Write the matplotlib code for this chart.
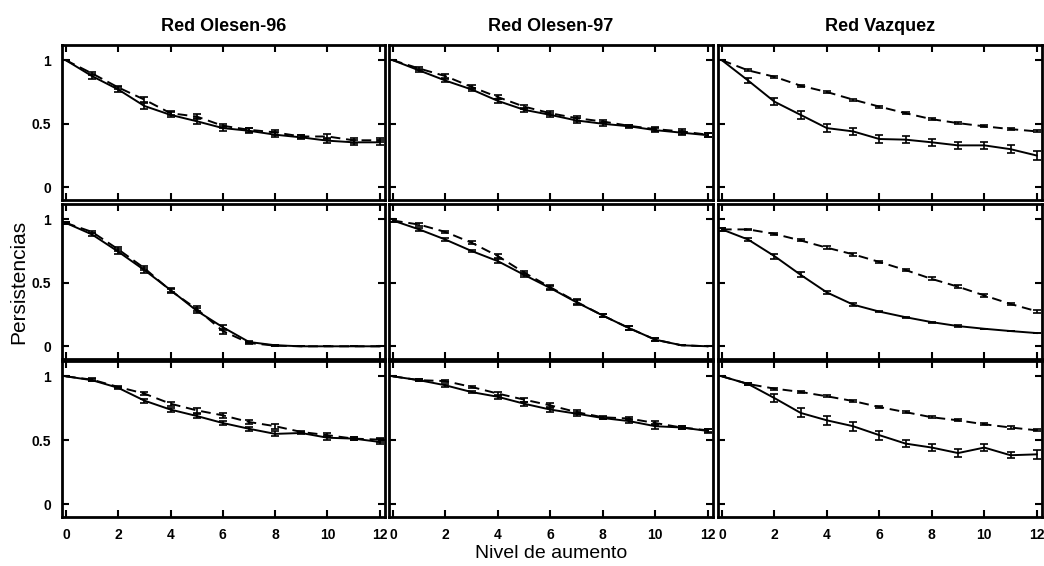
import matplotlib.pyplot as plt
import numpy as np

plt.rcParams['font.family'] = ['Liberation Sans', 'DejaVu Sans']

niveles = list(range(13))
redes = ['Red Olesen-96', 'Red Olesen-97', 'Red Vazquez']

# fila 1
o96_a_sol = [1.0, 0.875, 0.77, 0.64, 0.57, 0.52, 0.466, 0.445, 0.414, 0.393, 0.367, 0.354, 0.354]
o96_a_sol_err = [0.0, 0.02, 0.02, 0.02, 0.02, 0.025, 0.02, 0.02, 0.02, 0.015, 0.02, 0.02, 0.02]
o96_a_das = [1.0, 0.896, 0.786, 0.69, 0.583, 0.557, 0.484, 0.453, 0.432, 0.40, 0.40, 0.37, 0.37]
o96_a_das_err = [0.0, 0.015, 0.015, 0.02, 0.015, 0.02, 0.015, 0.015, 0.02, 0.015, 0.02, 0.02, 0.015]

o97_a_sol = [1.0, 0.92, 0.84, 0.77, 0.68, 0.61, 0.57, 0.526, 0.50, 0.48, 0.45, 0.43, 0.41]
o97_a_sol_err = [0.0, 0.01, 0.01, 0.015, 0.015, 0.015, 0.015, 0.02, 0.015, 0.01, 0.015, 0.015, 0.015]
o97_a_das = [1.0, 0.935, 0.875, 0.79, 0.71, 0.635, 0.583, 0.544, 0.518, 0.484, 0.458, 0.44, 0.414]
o97_a_das_err = [0.0, 0.01, 0.015, 0.015, 0.015, 0.015, 0.015, 0.02, 0.015, 0.01, 0.015, 0.02, 0.015]

vaz_a_sol = [1.0, 0.84, 0.674, 0.57, 0.466, 0.44, 0.38, 0.375, 0.354, 0.33, 0.33, 0.30, 0.25]
vaz_a_sol_err = [0.0, 0.02, 0.025, 0.03, 0.03, 0.03, 0.03, 0.03, 0.03, 0.03, 0.03, 0.03, 0.035]
vaz_a_das = [1.0, 0.92, 0.87, 0.80, 0.75, 0.69, 0.635, 0.583, 0.536, 0.505, 0.48, 0.458, 0.44]
vaz_a_das_err = [0.0, 0.008, 0.008, 0.008, 0.008, 0.008, 0.008, 0.008, 0.008, 0.008, 0.008, 0.008, 0.008]

# fila 2
o96_b_sol = [0.971, 0.88, 0.745, 0.60, 0.443, 0.28, 0.15, 0.034, 0.008, 0.0, 0.0, 0.0, 0.0]
o96_b_sol_err = [0.01, 0.015, 0.02, 0.02, 0.015, 0.02, 0.02, 0.01, 0.0, 0.0, 0.0, 0.0, 0.0]
o96_b_das = [0.971, 0.90, 0.763, 0.615, 0.438, 0.294, 0.12, 0.026, 0.005, 0.0, 0.0, 0.0, 0.0]
o96_b_das_err = [0.01, 0.01, 0.015, 0.015, 0.015, 0.02, 0.02, 0.01, 0.0, 0.0, 0.0, 0.0, 0.0]

o97_b_sol = [0.99, 0.92, 0.84, 0.75, 0.67, 0.5625, 0.458, 0.346, 0.242, 0.143, 0.052, 0.008, 0.0]
o97_b_sol_err = [0.01, 0.01, 0.01, 0.01, 0.015, 0.015, 0.015, 0.02, 0.015, 0.015, 0.01, 0.0, 0.0]
o97_b_das = [0.99, 0.958, 0.90, 0.815, 0.71, 0.58, 0.465, 0.35, 0.242, 0.143, 0.052, 0.008, 0.0]
o97_b_das_err = [0.01, 0.01, 0.01, 0.01, 0.015, 0.015, 0.015, 0.02, 0.015, 0.015, 0.01, 0.0, 0.0]

vaz_b_sol = [0.92, 0.84, 0.71, 0.5625, 0.424, 0.328, 0.273, 0.229, 0.19, 0.159, 0.138, 0.12, 0.104]
vaz_b_sol_err = [0.01, 0.015, 0.02, 0.02, 0.015, 0.01, 0.005, 0.005, 0.005, 0.005, 0.0, 0.0, 0.0]
vaz_b_das = [0.92, 0.92, 0.885, 0.833, 0.776, 0.724, 0.664, 0.60, 0.53, 0.469, 0.40, 0.333, 0.276]
vaz_b_das_err = [0.01, 0.005, 0.008, 0.008, 0.01, 0.01, 0.01, 0.01, 0.012, 0.012, 0.01, 0.01, 0.012]

# fila 3
o96_c_sol = [1.0, 0.97, 0.91, 0.81, 0.74, 0.69, 0.635, 0.59, 0.55, 0.557, 0.52, 0.513, 0.487]
o96_c_sol_err = [0.0, 0.01, 0.01, 0.015, 0.015, 0.015, 0.015, 0.015, 0.02, 0.01, 0.015, 0.01, 0.02]
o96_c_das = [1.0, 0.974, 0.917, 0.865, 0.786, 0.734, 0.695, 0.643, 0.61, 0.565, 0.54, 0.513, 0.505]
o96_c_das_err = [0.0, 0.01, 0.01, 0.01, 0.015, 0.02, 0.02, 0.015, 0.02, 0.01, 0.015, 0.01, 0.015]

o97_c_sol = [1.0, 0.97, 0.93, 0.877, 0.84, 0.786, 0.74, 0.708, 0.674, 0.65, 0.61, 0.60, 0.573]
o97_c_sol_err = [0.0, 0.01, 0.01, 0.01, 0.015, 0.015, 0.015, 0.015, 0.01, 0.015, 0.02, 0.01, 0.015]
o97_c_das = [1.0, 0.97, 0.963, 0.917, 0.865, 0.818, 0.773, 0.72, 0.68, 0.67, 0.635, 0.60, 0.578]
o97_c_das_err = [0.0, 0.01, 0.01, 0.01, 0.015, 0.015, 0.015, 0.015, 0.01, 0.015, 0.015, 0.01, 0.01]

vaz_c_sol = [1.0, 0.94, 0.83, 0.714, 0.656, 0.61, 0.54, 0.474, 0.443, 0.40, 0.443, 0.383, 0.39]
vaz_c_sol_err = [0.0, 0.01, 0.03, 0.035, 0.035, 0.035, 0.035, 0.03, 0.03, 0.03, 0.03, 0.025, 0.035]
vaz_c_das = [1.0, 0.94, 0.904, 0.878, 0.844, 0.807, 0.76, 0.72, 0.68, 0.656, 0.625, 0.60, 0.578]
vaz_c_das_err = [0.0, 0.008, 0.008, 0.008, 0.008, 0.008, 0.008, 0.008, 0.008, 0.008, 0.008, 0.008, 0.008]

filas = [
    [(o96_a_sol, o96_a_sol_err, o96_a_das, o96_a_das_err),
     (o97_a_sol, o97_a_sol_err, o97_a_das, o97_a_das_err),
     (vaz_a_sol, vaz_a_sol_err, vaz_a_das, vaz_a_das_err)],
    [(o96_b_sol, o96_b_sol_err, o96_b_das, o96_b_das_err),
     (o97_b_sol, o97_b_sol_err, o97_b_das, o97_b_das_err),
     (vaz_b_sol, vaz_b_sol_err, vaz_b_das, vaz_b_das_err)],
    [(o96_c_sol, o96_c_sol_err, o96_c_das, o96_c_das_err),
     (o97_c_sol, o97_c_sol_err, o97_c_das, o97_c_das_err),
     (vaz_c_sol, vaz_c_sol_err, vaz_c_das, vaz_c_das_err)],
]

W, H = 1044, 566
# bordes de los paneles en pixeles (izq, der) y (arriba, abajo)
cols_px = [(62, 385), (389, 713), (718, 1042)]
rows_px = [(45, 200), (204, 359), (361, 517)]

fig = plt.figure(figsize=(10.44, 5.66), dpi=100)
axes = np.empty((3, 3), dtype=object)
for i, (t, b) in enumerate(rows_px):
    for j, (l, r) in enumerate(cols_px):
        axes[i, j] = fig.add_axes([l / W, 1 - b / H, (r - l) / W, (b - t) / H])

for i in range(3):
    for j in range(3):
        ax = axes[i, j]
        sol, sol_err, das, das_err = filas[i][j]
        ax.errorbar(niveles, sol, yerr=sol_err, color='black', lw=1.4, ls='-',
                    capsize=3, elinewidth=1.2, capthick=1.2)
        ax.errorbar(niveles, das, yerr=das_err, color='black', lw=1.4, ls=(0, (5, 3)),
                    capsize=3, elinewidth=1.2, capthick=1.2)
        ax.set_xlim(-0.15, 12.2)
        ax.set_ylim(-0.1, 1.12)
        ax.set_xticks(range(0, 13, 2))
        ax.set_yticks([0, 0.5, 1])
        ax.set_yticklabels(['0', '0.5', '1'])
        ax.tick_params(direction='in', top=True, right=True, length=5, width=1.5,
                       labelsize=10, pad=8)
        for lab in ax.get_xticklabels() + ax.get_yticklabels():
            lab.set_fontweight('bold')
        for s in ax.spines.values():
            s.set_linewidth(2)
        if j > 0:
            ax.tick_params(labelleft=False)
        if i < 2:
            ax.tick_params(labelbottom=False)
        if i == 0:
            ax.set_title(redes[j], fontsize=13, fontweight='bold', pad=10)

axes[1, 0].set_ylabel('Persistencias', fontsize=15)
axes[1, 0].yaxis.set_label_coords(-0.105, 0.5)
axes[2, 1].set_xlabel('Nivel de aumento', fontsize=14, labelpad=2)

plt.savefig('out.png', dpi=100)
